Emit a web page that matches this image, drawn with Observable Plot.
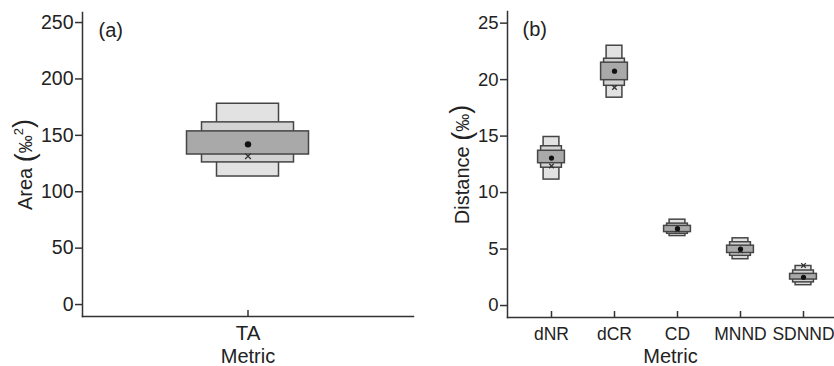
<!DOCTYPE html>
<html><head><meta charset="utf-8">
<script src="https://cdn.jsdelivr.net/npm/d3@7"></script>
<script src="https://cdn.jsdelivr.net/npm/@observablehq/plot@0.6"></script>
<style>
body{margin:0;background:#fff;}
#wrap{display:flex;width:834px;height:366px;}
#wrap svg{font-family:"Liberation Sans",Arial,sans-serif;background:#fff;}
</style></head><body><div id="wrap"></div>
<script>
// ---- Panel (a) data ----
const metricsA = ["TA"];
const outerLoA = [113.5], outerHiA = [178];
const midLoA   = [126],   midHiA   = [161.5];
const innerLoA = [133],   innerHiA = [153.5];
const meanA    = [142];
const medianA  = [131.5];
const yTicksA  = [0, 50, 100, 150, 200, 250];

// ---- Panel (b) data ----
const metricsB = ["dNR", "dCR", "CD", "MNND", "SDNND"];
const outerLoB = [11.15, 18.4, 6.15, 4.1, 1.8];
const outerHiB = [14.92, 23.0, 7.6, 5.95, 3.5];
const midLoB   = [12.2, 19.45, 6.35, 4.4, 2.05];
const midHiB   = [14.1, 21.85, 7.25, 5.6, 3.1];
const innerLoB = [12.6, 19.95, 6.5, 4.65, 2.3];
const innerHiB = [13.7, 21.5, 7.05, 5.3, 2.8];
const meanB    = [13.05, 20.75, 6.8, 5.0, 2.5];
const medianB  = [12.35, 19.3, 6.7, 4.85, 3.55];
const yTicksB  = [0, 5, 10, 15, 20, 25];

function table(metrics, oLo, oHi, mLo, mHi, iLo, iHi, mean, median) {
  return metrics.map((m, i) => ({metric: m, oLo: oLo[i], oHi: oHi[i], mLo: mLo[i], mHi: mHi[i],
    iLo: iLo[i], iHi: iHi[i], mean: mean[i], median: median[i]}));
}
const dataA = table(metricsA, outerLoA, outerHiA, midLoA, midHiA, innerLoA, innerHiA, meanA, medianA);
const dataB = table(metricsB, outerLoB, outerHiB, midLoB, midHiB, innerLoB, innerHiB, meanB, medianB);

function panel(o) {
  const H = 366;
  const plotH = H - o.marginTop - o.marginBottom;
  const box = (lo, hi, fill, inset) => Plot.barY(o.data, {x: "metric", y1: lo, y2: hi, fill,
    stroke: "#454545", strokeWidth: 1.5, insetLeft: inset, insetRight: inset});
  const svg = Plot.plot({
    width: 417, height: H,
    marginLeft: o.marginLeft, marginRight: o.marginRight, marginTop: o.marginTop, marginBottom: o.marginBottom,
    style: {fontFamily: '"Liberation Sans", Arial, sans-serif', color: "#222", background: "#fff"},
    x: Object.assign({type: "band", domain: o.metrics, axis: null}, o.xOpts),
    y: {domain: o.yDomain, axis: null},
    marks: [
      box("oLo", "oHi", "#e2e2e2", o.insets[0]),
      box("mLo", "mHi", "#d3d3d3", o.insets[1]),
      box("iLo", "iHi", "#a9a9a9", o.insets[2]),
      Plot.dot(o.data, {x: "metric", y: "median", symbol: "times", r: o.r * 0.85, stroke: "#333", strokeWidth: 1.3}),
      Plot.dot(o.data, {x: "metric", y: "mean", r: o.r, fill: "#111", stroke: "none"}),
      Plot.axisY({ticks: o.yTicks, tickSize: 7, tickPadding: 2, fontSize: o.yFont, label: null, stroke: "#333", strokeWidth: 1.5}),
      Plot.axisX({tickSize: 0, tickPadding: o.xPad, fontSize: o.xFont, label: null}),
      Plot.ruleX(o.metrics, {insetTop: plotH - 6, stroke: "#333", strokeWidth: 1.5}),
      Plot.frame({anchor: "left", stroke: "#333", strokeWidth: 1.5}),
      Plot.frame({anchor: "bottom", stroke: "#333", strokeWidth: 1.5}),
      Plot.text(["Metric"], {frameAnchor: "bottom", dy: o.metricDy, lineAnchor: "top", fontSize: 20, fill: "#222"}),
      Plot.text([o.tag], {frameAnchor: "top-left", dx: o.tagDx, dy: 10, textAnchor: "start", lineAnchor: "top", fontSize: 20, fill: "#222"}),
      Plot.text([o.label], {frameAnchor: "left", dx: o.labelDx, rotate: -90, textAnchor: "middle", lineAnchor: "middle", fontSize: 20, fill: "#222"})
    ]
  });
  // big parentheses around the unit
  d3.select(svg).selectAll("text").filter(function() { return this.textContent === o.label; }).each(function() {
    const t = d3.select(this);
    t.text(null);
    t.append("tspan").text(o.labelWord + " ");
    t.append("tspan").attr("font-size", 27).attr("dy", "0.06em").text("(");
    t.append("tspan").attr("font-size", 18).attr("dy", "-0.06em").text("‰");
    if (o.sup) {
      t.append("tspan").attr("font-size", 13).attr("dy", -9).text(o.sup);
      t.append("tspan").attr("font-size", 27).attr("dy", 9).text(")");
    } else {
      t.append("tspan").attr("font-size", 27).text(")");
    }
  });
  return svg;
}

const wrap = document.getElementById("wrap");
wrap.appendChild(panel({
  data: dataA, metrics: metricsA, yDomain: [-10.6, 258.9], yTicks: yTicksA,
  marginLeft: 82, marginRight: 4, marginTop: 12, marginBottom: 50,
  xOpts: {padding: 0}, insets: [134.5, 119.5, 104.5], r: 3.2,
  yFont: 19.5, xFont: 20.5, xPad: 9, metricDy: 32, tagDx: 16, labelDx: -57,
  tag: "(a)", label: "Area (‰2)", labelWord: "Area", sup: "2"
}));
wrap.appendChild(panel({
  data: dataB, metrics: metricsB, yDomain: [-1.06, 26.03], yTicks: yTicksB,
  marginLeft: 90, marginRight: 1, marginTop: 11, marginBottom: 49,
  xOpts: {paddingInner: 0.3, paddingOuter: 0.2, align: 0.725}, insets: [14.1, 11.6, 8.6], r: 2.6,
  yFont: 18.5, xFont: 17.5, xPad: 10, metricDy: 31, tagDx: 15, labelDx: -45,
  tag: "(b)", label: "Distance (‰)", labelWord: "Distance", sup: null
}));
</script></body></html>
